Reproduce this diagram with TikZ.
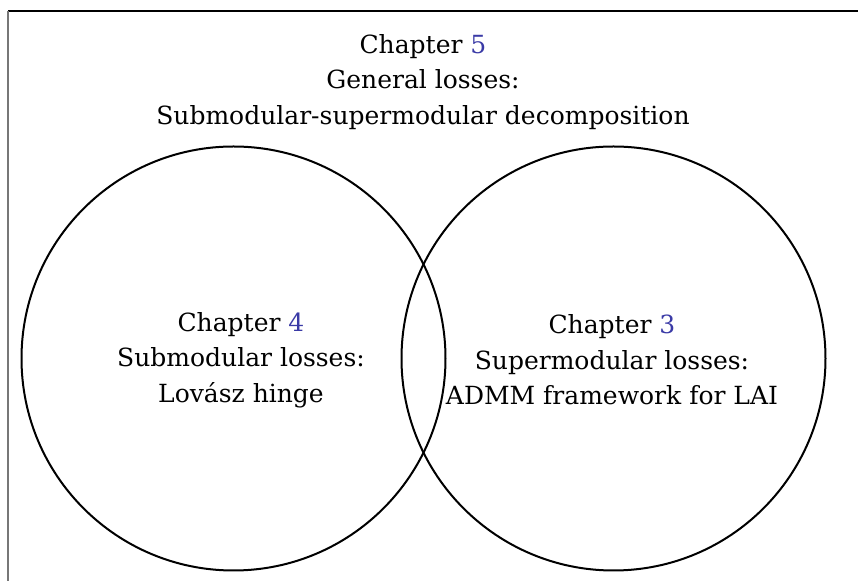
\documentclass[tikz,border=0pt]{standalone}
\usepackage{fontspec}
\setmainfont{DejaVu Serif}
\usepackage{tikz}
\definecolor{chapblue}{HTML}{3A3AA6}
\definecolor{framegray}{HTML}{777777}
\newcommand{\chapref}[1]{\textcolor{chapblue}{#1}}

\begin{document}
\begin{tikzpicture}[x=0.5pt,y=-0.5pt,
  lossset/.style={line width=1pt},
  losstext/.style={align=center,font=\fontsize{12.5}{17.8}\selectfont,inner sep=0pt}]
  \useasboundingbox (0,0) rectangle (858,581);
  \draw[line width=0.6pt] (8,11) -- (858,11);
  \draw[framegray,line width=0.6pt] (8,11) -- (8,581);
  \draw[lossset] (233.5,358.5) circle (212);
  \draw[lossset] (613.5,358.5) circle (212);
  \node[losstext] (general) at (423,82) {Chapter \chapref{5}\\General losses:\\Submodular-supermodular decomposition};
  \node[losstext] (submod) at (241,360) {Chapter \chapref{4}\\Submodular losses:\\Lovász hinge};
  \node[losstext] (supermod) at (612,360) {Chapter \chapref{3}\\Supermodular losses:\\ADMM framework for LAI};
\end{tikzpicture}
\end{document}
